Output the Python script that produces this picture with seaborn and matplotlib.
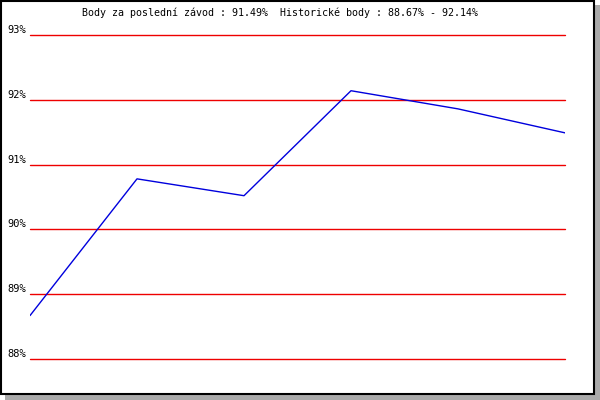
import matplotlib
matplotlib.use('Agg')
import matplotlib.pyplot as plt
from matplotlib.patches import Rectangle
import pandas as pd
import seaborn as sns

# hodnoty z grafu
zavody = [0, 1, 2, 3, 4, 5]
body = [88.67, 90.78, 90.52, 92.14, 91.86, 91.49]
ticks = [88, 89, 90, 91, 92, 93]
tick_labels = ['88%', '89%', '90%', '91%', '92%', '93%']
titulek = 'Body za poslední závod : 91.49%  Historické body : 88.67% - 92.14%'

df = pd.DataFrame({'zavod': zavody, 'body': body})

sns.set_style('white')
plt.rcParams['font.family'] = ['DejaVu Sans Mono']

fig = plt.figure(figsize=(6, 4), dpi=100, facecolor='white')

# stin a ramecek (pod osami)
fig.patches.append(Rectangle((5 / 600, 0), 595 / 600, 395 / 400, transform=fig.transFigure,
                             facecolor='#aaaaaa', edgecolor='none', zorder=-2))
fig.patches.append(Rectangle((1 / 600, 6 / 400), 593 / 600, 393 / 400, transform=fig.transFigure,
                             facecolor='white', edgecolor='black', linewidth=1.5, zorder=-1))

ax = fig.add_axes([30 / 600, 41 / 400, 535 / 600, 324 / 400])
ax.set_facecolor('none')

for t in ticks:
    ax.axhline(t, color='#ee0000', lw=1, clip_on=False, zorder=1)

sns.lineplot(data=df, x='zavod', y='body', ax=ax, color='#0000dd', lw=1, zorder=3)

ax.set_xlim(0, 5)
ax.set_ylim(88, 93)
ax.set_xticks([])
ax.set_yticks(ticks)
ax.set_yticklabels(tick_labels)
ax.tick_params(axis='y', length=0, pad=3, labelsize=7.5, labelcolor='black')
for lab in ax.get_yticklabels():
    lab.set_verticalalignment('bottom')
ax.set_xlabel('')
ax.set_ylabel('')
for s in ax.spines.values():
    s.set_visible(False)

fig.text(280 / 600, 1 - 13 / 400, titulek, ha='center', va='center', fontsize=7.2, color='black')

fig.savefig('out.png', dpi=100)
